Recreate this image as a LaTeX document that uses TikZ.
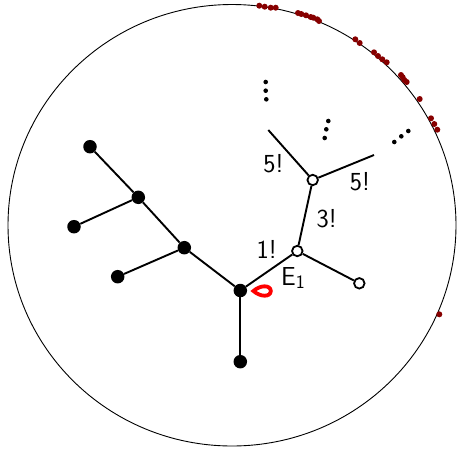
\documentclass[tikz,border=0pt]{standalone}
\usepackage{fontspec}
\usepackage{tikz}
\definecolor{dotred}{RGB}{135,0,0}
\begin{document}
\begin{tikzpicture}[x=1pt,y=-1pt,
  full/.style={circle,fill=black,inner sep=0pt,minimum size=13.5pt},
  hollow/.style={circle,draw=black,fill=white,line width=1.8pt,inner sep=0pt,minimum size=10.5pt},
  edge/.style={line width=1.9pt},
  lab/.style={font=\sffamily\fontsize{26}{30}\selectfont,inner sep=0pt},
  rdot/.style={fill=dotred,draw=none},
  edot/.style={fill=black,draw=none}]
\useasboundingbox (0,0) rectangle (458,451);
% boundary circle
\draw[line width=0.9pt] (232,225.25) ellipse [x radius=224,y radius=220.75];
% nodes
\node[full] (b1) at (90,146.7) {};
\node[full] (b2) at (138.3,197.3) {};
\node[full] (b3) at (74,226.7) {};
\node[full] (b4) at (184.3,247.7) {};
\node[full] (b5) at (117.7,276.7) {};
\node[full] (b6) at (240.3,290.5) {};
\node[full] (b7) at (240.3,361.7) {};
\node[hollow] (w1) at (297.3,251) {};
\node[hollow] (w2) at (312.7,180) {};
\node[hollow] (w3) at (359.3,283.3) {};
\coordinate (c1) at (268.3,130);
\coordinate (c2) at (374,155);
% edges
\draw[edge] (b1) -- (b2);
\draw[edge] (b2) -- (b3);
\draw[edge] (b2) -- (b4);
\draw[edge] (b4) -- (b5);
\draw[edge] (b4) -- (b6);
\draw[edge] (b6) -- (b7);
\draw[edge] (b6) -- (w1);
\draw[edge] (w1) -- (w2);
\draw[edge] (w1) -- (w3);
\draw[edge] (w2) -- (c1);
\draw[edge] (w2) -- (c2);
% labels
\node[lab] (l1) at (266.7,249) {1!};
\node[lab] (le) at (293,278) {E\raisebox{-0.3ex}{\fontsize{19}{22}\selectfont 1}};
\node[lab] (l5a) at (273.3,163.3) {5!};
\node[lab] (l3) at (326.7,218.3) {3!};
\node[lab] (l5b) at (360,181.7) {5!};
% red loop
\draw[red,line width=3.8pt,line join=miter]
  (253.5,291) .. controls (260,285) and (270.5,284.5) .. (270.8,291)
  .. controls (270.5,297.5) and (260,297) .. cycle;
% ellipsis dots
\foreach \p in {(265.7,82),(265.7,90.7),(266.3,99.3),
                (328.3,121),(326.3,129.3),(324.7,138),
                (408.3,131),(401.3,136.3),(394.3,142)}
  \fill[edot] \p circle (2.3);
% red dots on the boundary
\foreach \p in {(259.3,5.7),(264.7,6.7),(270.7,7.7),(275.7,7.7),
                (298,13),(301.3,14),(306,15.3),(310.7,17),(313.3,17.7),(317.3,19.3),(319,21),
                (355.3,39.3),(359.7,43),
                (374,52.3),(378,56),(382.3,59.3),(386.7,62.3),
                (401,75),(402.7,77.3),(404.3,80),(406.7,82),
                (419.7,99),(431,118.3),(434.3,124),(437.3,129.7),
                (439.3,314.3)}
  \fill[rdot] \p circle (3);
\end{tikzpicture}
\end{document}
